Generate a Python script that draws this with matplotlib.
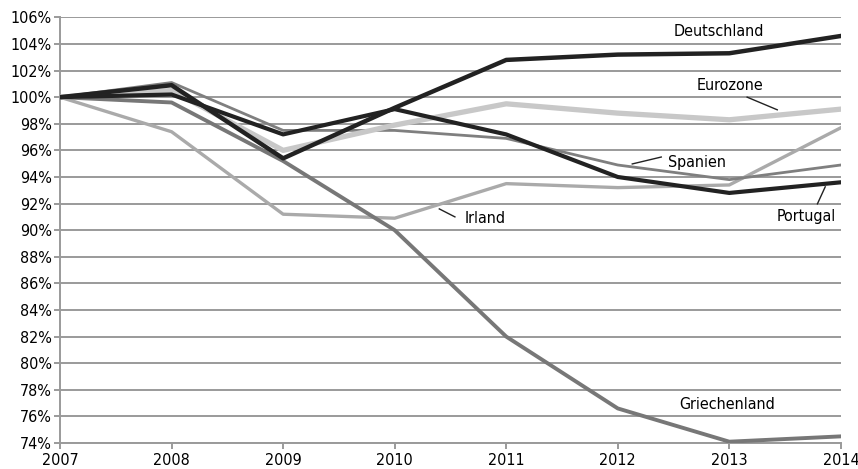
import matplotlib
matplotlib.use('Agg')
import matplotlib.pyplot as plt
from matplotlib import font_manager
from matplotlib.ticker import FuncFormatter

# pick a narrow font if one is there
names = set(f.name for f in font_manager.fontManager.ttflist)
cond = [f for f in font_manager.fontManager.ttflist
        if f.name == 'DejaVu Sans' and 'condensed' in str(f.stretch)]
if 'Liberation Sans Narrow' in names:
    plt.rcParams['font.family'] = ['Liberation Sans Narrow', 'DejaVu Sans']
    fs = 12.5
elif cond:
    plt.rcParams['font.family'] = ['DejaVu Sans']
    plt.rcParams['font.stretch'] = 'condensed'
    fs = 11.5
else:
    plt.rcParams['font.family'] = ['Roboto', 'DejaVu Sans']
    fs = 11.5

years = [2007, 2008, 2009, 2010, 2011, 2012, 2013, 2014]
deutschland = [100, 100.9, 95.4, 99.2, 102.8, 103.2, 103.3, 104.6]
portugal = [100, 100.2, 97.2, 99.1, 97.2, 94.0, 92.8, 93.6]
eurozone = [100, 100.5, 96.0, 97.9, 99.5, 98.8, 98.3, 99.1]
spanien = [100, 101.1, 97.5, 97.5, 96.9, 94.9, 93.8, 94.9]
griechenland = [100, 99.6, 95.2, 90.0, 82.0, 76.6, 74.1, 74.5]
irland = [100, 97.4, 91.2, 90.9, 93.5, 93.2, 93.4, 97.7]
yticks = list(range(74, 107, 2))

fig = plt.figure(figsize=(8.58, 4.69), dpi=100)
ax = fig.add_axes([0.07, 0.0554, 0.91, 0.9076])

for y in yticks:
    ax.axhline(y, color='#9a9a9a', lw=1.4, zorder=1)

ax.plot(years, irland, color='#aaaaaa', lw=2.4, zorder=3)
ax.plot(years, griechenland, color='#777777', lw=2.8, zorder=3)
ax.plot(years, spanien, color='#7f7f7f', lw=2.0, zorder=4)
ax.plot(years, eurozone, color='#c8c8c8', lw=3.8, zorder=4)
ax.plot(years, portugal, color='#222222', lw=3.0, zorder=5)
ax.plot(years, deutschland, color='#222222', lw=3.2, zorder=5)

ax.set_xlim(2007, 2014)
ax.set_ylim(74, 106)
ax.set_xticks(years)
ax.set_yticks(yticks)
ax.yaxis.set_major_formatter(FuncFormatter(lambda v, p: '%d%%' % v))
ax.tick_params(axis='both', labelsize=fs, color='#9a9a9a', length=4, width=1.4)
ax.tick_params(axis='y', pad=2)
ax.tick_params(axis='x', pad=3)
for s in ['top', 'right']:
    ax.spines[s].set_visible(False)
for s in ['left', 'bottom']:
    ax.spines[s].set_color('#9a9a9a')
    ax.spines[s].set_linewidth(1.4)

# labels with leader lines
ax.text(2012.91, 104.9, 'Deutschland', fontsize=fs, ha='center', va='center')
ax.text(2013.01, 100.9, 'Eurozone', fontsize=fs, ha='center', va='center')
ax.plot([2013.16, 2013.43], [100.0, 99.05], color='#222222', lw=1)
ax.text(2012.45, 95.1, 'Spanien', fontsize=fs, ha='left', va='center')
ax.plot([2012.13, 2012.39], [94.98, 95.5], color='#222222', lw=1)
ax.text(2013.69, 91.0, 'Portugal', fontsize=fs, ha='center', va='center')
ax.plot([2013.86, 2013.79], [93.26, 91.98], color='#222222', lw=1)
ax.text(2010.63, 90.9, 'Irland', fontsize=fs, ha='left', va='center')
ax.plot([2010.40, 2010.54], [91.6, 91.0], color='#222222', lw=1)
ax.text(2012.98, 76.9, 'Griechenland', fontsize=fs, ha='center', va='center')

fig.savefig('out.png', dpi=100)
